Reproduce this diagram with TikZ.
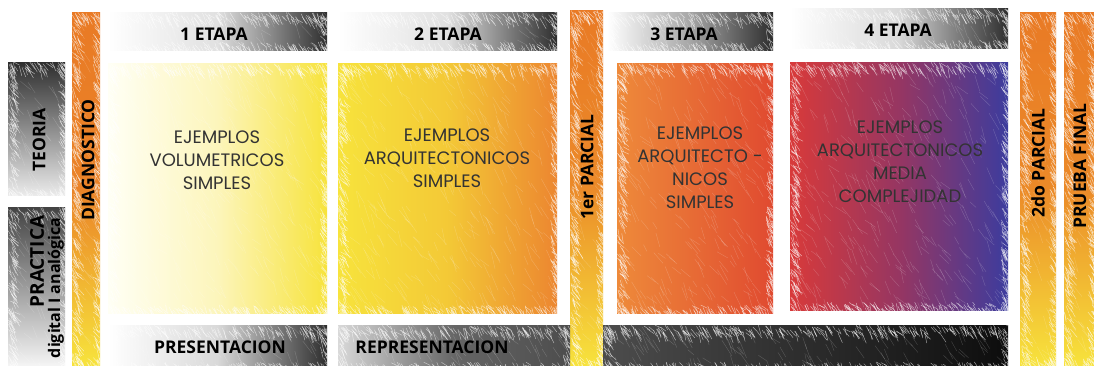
\documentclass[tikz,border=0pt]{standalone}
\usepackage{fontspec}
\setmainfont{Poppins}
\newfontfamily\lblfont{Open Sans}
\definecolor{orA}{HTML}{E97A25}
\definecolor{yeA}{HTML}{F7E33C}
\definecolor{dk}{HTML}{2E2E2E}
\definecolor{orB}{HTML}{EC8630}
\definecolor{orC}{HTML}{EE8A3A}
\definecolor{rdB}{HTML}{E04A30}
\definecolor{rdA}{HTML}{D83A3A}
\definecolor{blA}{HTML}{3C3C9E}
\definecolor{mgA}{HTML}{963662}
\tikzset{
  x=1pt,y=-1pt,
  lbl/.style={font=\lblfont\bfseries\fontsize{17.5}{19}\selectfont, text=black},
  body/.style={font=\fontsize{18}{23}\selectfont, text=black!80, align=center},
  vbar/.style={top color=orA, bottom color=yeA, middle color=orA!85!yeA},
  sk/.style={white, opacity=0.6, line width=0.45pt, line cap=round},
  skin/.style={white, opacity=0.2, line width=0.4pt, line cap=round},
}
% rough sketchy edges: x1 y1 x2 y2
\newcommand\rough[4]{%
  \begin{scope}
  \clip (#1,#2) rectangle (#3,#4);
  \pgfmathtruncatemacro\nh{(#3-#1)/1.4}%
  \pgfmathtruncatemacro\nv{(#4-#2)/1.4}%
  \pgfmathtruncatemacro\ni{((#3-#1)/20)*((#4-#2)/8)}%
  \foreach \i in {1,...,\nh}{%
    \pgfmathsetmacro\px{#1+rnd*(#3-#1)}%
    \pgfmathsetmacro\py{#2+rnd*8}%
    \draw[sk] (\px,\py) -- ++(58:{3+rnd*10});
    \pgfmathsetmacro\px{#1+rnd*(#3-#1)}%
    \pgfmathsetmacro\py{#4-rnd*8}%
    \draw[sk] (\px,\py) -- ++(58:{3+rnd*10});
  }
  \foreach \i in {1,...,\nv}{%
    \pgfmathsetmacro\px{#1+rnd*7}%
    \pgfmathsetmacro\py{#2+rnd*(#4-#2)}%
    \draw[sk] (\px,\py) -- ++(58:{3+rnd*10});
    \pgfmathsetmacro\px{#3-rnd*7}%
    \pgfmathsetmacro\py{#2+rnd*(#4-#2)}%
    \draw[sk] (\px,\py) -- ++(58:{3+rnd*10});
  }
  \foreach \i in {1,...,\ni}{%
    \pgfmathsetmacro\px{#1+rnd*(#3-#1)}%
    \pgfmathsetmacro\py{#2+rnd*(#4-#2)}%
    \draw[skin] (\px,\py) -- ++(58:{6+rnd*14});
  }
  \end{scope}}
\begin{document}
\begin{tikzpicture}
\pgfmathsetseed{11}
\useasboundingbox (0,0) rectangle (1094,365);
\fill[white] (0,0) rectangle (1094,365);
% left column
\shade[top color=dk, bottom color=black!8] (8,62) rectangle (65,195);
\rough{8}{62}{65}{195}
\node[lbl, rotate=90] (teoria) at (39,140) {TEORIA};
\shade[top color=dk!90, bottom color=white] (8,207) rectangle (65,375);
\rough{8}{207}{65}{375}
\node[lbl, rotate=90, anchor=east, font=\lblfont\bfseries\fontsize{19}{20}\selectfont] (practica) at (37,212) {PRACTICA};
\node[lbl, rotate=90, anchor=east, font=\lblfont\bfseries\fontsize{16}{17}\selectfont] (digital) at (56,214) {digital I analógica};
% vertical bars
\shade[top color=orA, bottom color=yeA, middle color=orA!92!yeA] (72,12) rectangle (100,365);
\rough{72}{12}{100}{365}
\node[lbl, rotate=90] (diag) at (88,160) {DIAGNOSTICO};
\shade[vbar] (570,10) rectangle (603,365);
\rough{570}{10}{603}{365}
\node[lbl, rotate=90] (p1) at (587,167) {1er PARCIAL};
\shade[vbar] (1020,12) rectangle (1056,365);
\rough{1020}{12}{1056}{365}
\node[lbl, rotate=90] (p2) at (1038,163) {2do PARCIAL};
\shade[vbar] (1064,12) rectangle (1094,365);
\rough{1064}{12}{1094}{365}
\node[lbl, rotate=90] (pf) at (1080,166) {PRUEBA FINAL};
% top stage bars
\shade[left color=white, right color=dk, middle color=black!12] (108,12) rectangle (327,50);
\rough{108}{12}{327}{50}
\node[lbl] (e1) at (214,34) {1 ETAPA};
\shade[left color=white, right color=dk, middle color=black!12] (338,12) rectangle (557,50);
\rough{338}{12}{557}{50}
\node[lbl] (e2) at (448,34) {2 ETAPA};
\shade[left color=white, right color=dk, middle color=black!35] (607,12) rectangle (773,50);
\rough{607}{12}{773}{50}
\node[lbl] (e3) at (684,34) {3 ETAPA};
\shade[left color=white, right color=dk, middle color=black!15] (790,8) rectangle (1008,48);
\rough{790}{8}{1008}{48}
\node[lbl] (e4) at (898,30) {4 ETAPA};
% main boxes
\shade[left color=yellow!4, right color=yeA, middle color=yeA!35] (108,63) rectangle (327,313);
\rough{108}{63}{327}{313}
\node[body] (b1) at (217,160) {EJEMPLOS\\VOLUMETRICOS\\SIMPLES};
\shade[left color=yeA, right color=orB, middle color=yeA!75!orA] (338,63) rectangle (557,313);
\rough{338}{63}{557}{313}
\node[body] (b2) at (447,158) {EJEMPLOS\\ARQUITECTONICOS\\SIMPLES};
\shade[left color=orC, right color=rdB] (617,63) rectangle (773,313);
\rough{617}{63}{773}{313}
\node[body] (b3) at (700,168) {EJEMPLOS\\ARQUITECTO -\\NICOS\\SIMPLES};
\shade[left color=rdA, right color=blA, middle color=mgA] (790,62) rectangle (1008,310);
\rough{790}{62}{1008}{310}
\node[body] (b4) at (900,162) {EJEMPLOS\\ARQUITECTONICOS\\MEDIA\\COMPLEJIDAD};
% bottom bars
\shade[left color=white, right color=dk, middle color=black!15] (108,325) rectangle (327,370);
\rough{108}{325}{327}{370}
\node[lbl] (pres) at (220,347) {PRESENTACION};
\shade[left color=black!15, right color=black!70, middle color=black!60] (338,325) rectangle (570,370);
\rough{338}{325}{570}{370}
\node[lbl] (repr) at (432,347) {REPRESENTACION};
\shade[left color=black!70, right color=black!95] (603,325) rectangle (1008,370);
\rough{603}{325}{1008}{370}
\end{tikzpicture}
\end{document}
